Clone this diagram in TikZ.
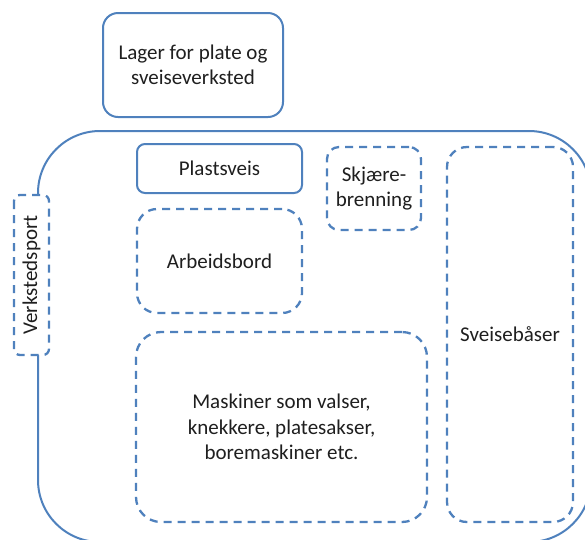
\documentclass[tikz,border=0pt]{standalone}
\usepackage{fontspec}
\setmainfont{Carlito}
\definecolor{boxblue}{RGB}{79,129,189}
\begin{document}
\begin{tikzpicture}[x=1pt,y=-1pt,
  box/.style={draw=boxblue, line width=2pt, fill=white, align=center,
    font=\fontsize{21}{25.5}\selectfont, inner sep=0pt, text=black!88},
  dbox/.style={box, line width=2.3pt, dash pattern=on 8pt off 6pt}]
\useasboundingbox (0,0) rectangle (585,539);
\begin{scope}
\clip (0,0) rectangle (585,539);
\draw[boxblue, line width=2pt, rounded corners=62pt] (38,131) rectangle (591,542);
\end{scope}
\node[box, rounded corners=15pt, minimum width=180pt, minimum height=104pt] (lager) at (193,65) {Lager for plate og\\sveiseverksted};
\node[box, rounded corners=8pt, minimum width=165pt, minimum height=49pt] (plast) at (219.5,168.5) {Plastsveis};
\node[dbox, rounded corners=20pt, minimum width=165pt, minimum height=104pt] (arb) at (219.5,261) {Arbeidsbord};
\node[dbox, rounded corners=12pt, minimum width=94pt, minimum height=83pt] (skj) at (374,188.5) {Skjære-\\brenning};
\node[dbox, rounded corners=20pt, minimum width=126pt, minimum height=375pt] (sveis) at (510,334.5) {Sveisebåser};
\node[dbox, rounded corners=25pt, minimum width=291pt, minimum height=190pt] (mask) at (281.5,427) {Maskiner som valser,\\knekkere, platesakser,\\boremaskiner etc.};
\node[dbox, rounded corners=6pt, rotate=90, minimum width=160pt, minimum height=35pt] (port) at (31.5,275) {Verkstedsport};
\end{tikzpicture}
\end{document}
